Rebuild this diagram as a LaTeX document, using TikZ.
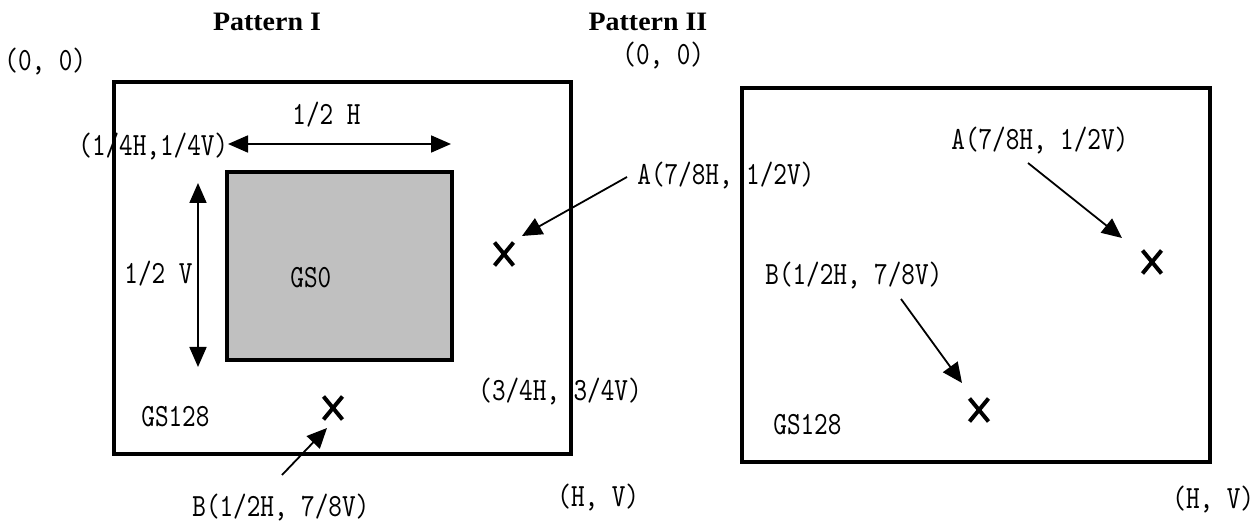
\documentclass[tikz,border=0pt]{standalone}
\usepackage{fontspec}
\setmainfont{Liberation Serif}
\newfontfamily\titlefont{Liberation Serif}[FakeStretch=1.05]
\newfontfamily\labelfont{lmmono10-regular.otf}[FakeStretch=0.8]
\usetikzlibrary{arrows.meta,shapes.misc}
\definecolor{gsgray}{RGB}{192,192,192}

\begin{document}
\begin{tikzpicture}[x=0.5pt,y=-0.5pt,
    lbl/.style={font=\labelfont\fontsize{16.2pt}{17pt}\selectfont, inner sep=0pt, anchor=west},
    ttl/.style={font=\titlefont\bfseries\fontsize{13.3pt}{15pt}\selectfont, inner sep=0pt},
    panel/.style={draw, line width=1.8pt},
    xmark/.style={draw, cross out, line width=2pt, minimum width=7.5pt, minimum height=9.5pt, inner sep=0pt},
    pointer/.style={-{Triangle[length=10pt,width=9pt]}, line width=0.9pt},
    dimarrow/.style={{Triangle[length=10pt,width=8.5pt]}-{Triangle[length=10pt,width=8.5pt]}, line width=0.9pt}]
  \useasboundingbox (0,0) rectangle (1260,523);
  \node[ttl] (titleI) at (267,22) {Pattern I};
  \node[ttl] (titleII) at (648,22) {Pattern II};
  \draw[panel] (114,82) rectangle (571,454);
  \draw[panel] (742,88) rectangle (1210,462);
  \draw[line width=1.6pt, fill=gsgray] (227,172) rectangle (452,360);
  \draw
    (4,62) node[lbl] (originI) {(0, 0)}
    (292,115) node[lbl] (halfH) {1/2 H}
    (78,147) node[lbl] (quarter) {(1/4H,1/4V)}
    (124,274) node[lbl] (halfV) {1/2 V}
    (290,278) node[lbl] (gszero) {GS0}
    (478,392) node[lbl] (threeq) {(3/4H, 3/4V)}
    (141,417) node[lbl] (gsI) {GS128}
    (192,508) node[lbl] (labelBI) {B(1/2H, 7/8V)}
    (557,498) node[lbl] (cornerI) {(H, V)}
    (637,176) node[lbl] (labelAI) {A(7/8H, 1/2V)}
    (622,56) node[lbl] (originII) {(0, 0)}
    (951,141) node[lbl] (labelAII) {A(7/8H, 1/2V)}
    (765,276) node[lbl] (labelBII) {B(1/2H, 7/8V)}
    (773,425) node[lbl] (gsII) {GS128}
    (1172,500) node[lbl] (cornerII) {(H, V)};
  \node[xmark] (AI) at (504,254) {};
  \node[xmark] (BI) at (333,408) {};
  \node[xmark] (AII) at (1152,262) {};
  \node[xmark] (BII) at (979,410) {};
  \coordinate (hleft) at (228,144);
  \coordinate (hright) at (451,144);
  \coordinate (vtop) at (198,183);
  \coordinate (vbottom) at (198,367);
  \coordinate (tailAI) at (627,177);
  \coordinate (tipAI) at (522,236);
  \coordinate (tailBI) at (282,475);
  \coordinate (tipBI) at (327,428);
  \coordinate (tailAII) at (1028,163);
  \coordinate (tipAII) at (1122,238);
  \coordinate (tailBII) at (901,299);
  \coordinate (tipBII) at (962,383);
  \draw[dimarrow] (hleft) -- (hright);
  \draw[dimarrow] (vtop) -- (vbottom);
  \draw[pointer] (tailAI) -- (tipAI);
  \draw[pointer] (tailBI) -- (tipBI);
  \draw[pointer] (tailAII) -- (tipAII);
  \draw[pointer] (tailBII) -- (tipBII);
\end{tikzpicture}
\end{document}
